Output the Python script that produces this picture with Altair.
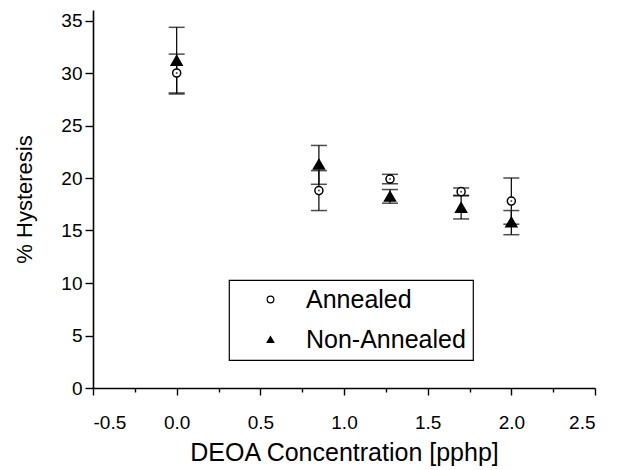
import altair as alt
import pandas as pd

conc = [0.0, 0.85, 1.275, 1.7, 2.0]
series = ["Annealed", "Non-Annealed"]
ann_mean = [30.0, 18.8, 19.9, 18.7, 17.8]
ann_lo = [28.1, 16.9, 19.45, 18.35, 15.6]
ann_hi = [31.8, 20.7, 20.35, 19.05, 20.0]
non_mean = [31.2, 21.3, 18.25, 17.2, 15.8]
non_lo = [28.0, 19.4, 17.6, 16.1, 14.6]
non_hi = [34.35, 23.1, 18.9, 18.3, 16.9]

x_ticks = [-0.5, -0.25, 0.0, 0.25, 0.5, 0.75, 1.0, 1.25, 1.5, 1.75, 2.0, 2.25, 2.5]
y_ticks = [0, 2.5, 5, 7.5, 10, 12.5, 15, 17.5, 20, 22.5, 25, 27.5, 30, 32.5, 35]

rows = []
for i, c in enumerate(conc):
    rows.append({"conc": c, "series": series[0], "mean": ann_mean[i], "lo": ann_lo[i], "hi": ann_hi[i]})
    rows.append({"conc": c, "series": series[1], "mean": non_mean[i], "lo": non_lo[i], "hi": non_hi[i]})
df = pd.DataFrame(rows)

FONT = "Liberation Sans"
x_major = "abs(datum.value*2 - round(datum.value*2)) < 0.001"
y_major = "abs(datum.value/5 - round(datum.value/5)) < 0.001"

x_enc = alt.X(
    "conc:Q",
    scale=alt.Scale(domain=[-0.5, 2.5], nice=False, zero=False),
    axis=alt.Axis(
        title="DEOA Concentration [pphp]",
        values=x_ticks,
        labelExpr=f"({x_major}) ? (datum.value < 0 ? '-' : '') + format(abs(datum.value), '.1f') : ''",
        tickSize={"condition": {"test": x_major, "value": 7}, "value": 4},
        grid=False,
        labelFontSize=19,
        labelPadding=18,
        titleFontSize=25,
        titlePadding=8,
        titleFontWeight="normal",
    ),
)
y_enc_kwargs = dict(
    scale=alt.Scale(domain=[0, 36], nice=False),
    axis=alt.Axis(
        title="% Hysteresis",
        values=y_ticks,
        labelExpr=f"({y_major}) ? format(datum.value, 'd') : ''",
        tickSize={"condition": {"test": y_major, "value": 8}, "value": 4},
        grid=False,
        labelFontSize=19,
        labelPadding=3,
        titleFontSize=22,
        titlePadding=24,
        titleFontWeight="normal",
    ),
)

base = alt.Chart(df)

rules = base.mark_rule(color="black", strokeWidth=1.2).encode(
    x=x_enc,
    y=alt.Y("lo:Q", **y_enc_kwargs),
    y2="hi:Q",
)
cap_lo = base.mark_tick(orient="horizontal", size=16, thickness=1.5, color="black").encode(
    x="conc:Q", y="lo:Q"
)
cap_hi = base.mark_tick(orient="horizontal", size=16, thickness=1.5, color="black").encode(
    x="conc:Q", y="hi:Q"
)
PAD = "\u2003"
leg = alt.Legend(orient="none", legendX=136, legendY=270, title=None, labelExpr=f"datum.label + '{PAD}'")
points = base.mark_point(filled=True, strokeWidth=1.5, opacity=1).encode(
    x="conc:Q",
    y="mean:Q",
    shape=alt.Shape(
        "series:N",
        scale=alt.Scale(domain=series, range=["circle", "triangle-up"]),
        legend=leg,
    ),
    fill=alt.Fill(
        "series:N",
        scale=alt.Scale(domain=series, range=["white", "black"]),
        legend=leg,
    ),
    stroke=alt.Stroke(
        "series:N",
        scale=alt.Scale(domain=series, range=["black", "black"]),
        legend=leg,
    ),
    size=alt.condition(alt.datum.series == "Annealed", alt.value(65), alt.value(120)),
)
dots = base.transform_filter(alt.datum.series == "Annealed").mark_point(
    filled=True, color="black", size=4, shape="circle"
).encode(x="conc:Q", y="mean:Q")

chart = (
    alt.layer(rules, cap_lo, cap_hi, points, dots)
    .properties(
        width=502,
        height=378,
        autosize="none",
        padding={"left": 93, "top": 10, "right": 26, "bottom": 82},
        background="white",
    )
    .configure_view(stroke=None)
    .configure_axis(
        domainColor="black",
        domainWidth=1.6,
        tickColor="black",
        tickWidth=1.4,
        labelColor="black",
        titleColor="black",
        labelFont=FONT,
        titleFont=FONT,
    )
    .configure_legend(
        strokeColor="black",
        strokeWidth=1.2,
        fillColor="white",
        padding=7,
        labelFont=FONT,
        labelFontSize=25,
        labelLimit=400,
        labelColor="black",
        symbolSize=45,
        symbolStrokeWidth=1.2,
        symbolOffset=22,
        labelOffset=23,
        rowPadding=14,
    )
)

chart.save("out.html", embed_options={"renderer": "svg", "actions": False})
